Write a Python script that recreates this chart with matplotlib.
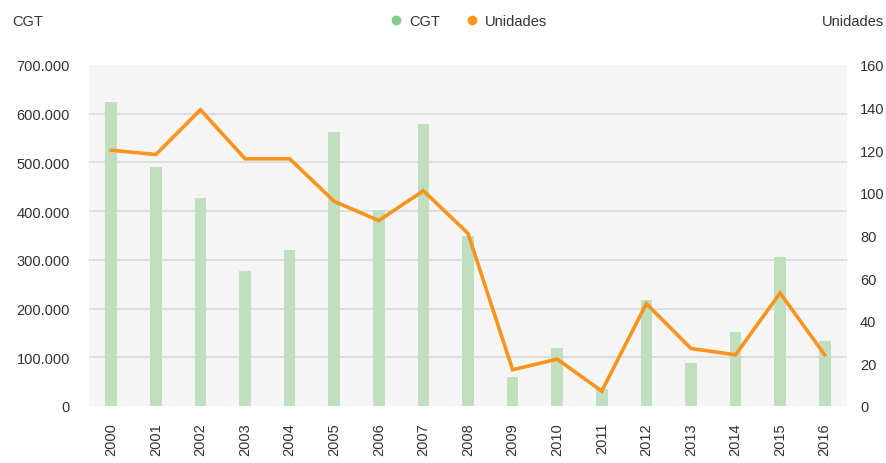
import matplotlib
matplotlib.use("Agg")
import matplotlib.pyplot as plt
from matplotlib.lines import Line2D
from matplotlib.ticker import FuncFormatter

years = ["2000", "2001", "2002", "2003", "2004", "2005", "2006", "2007", "2008",
         "2009", "2010", "2011", "2012", "2013", "2014", "2015", "2016"]
cgt = [625000, 490000, 428000, 278000, 321000, 563000, 403000, 578000, 348000,
       60000, 119000, 35000, 217000, 88000, 152000, 305000, 134000]
unidades = [120, 118, 139, 116, 116, 96, 87, 101, 81,
            17, 22, 7, 48, 27, 24, 53, 24]

bar_color = "#bfdfbf"
legend_green = "#7fcb8a"
line_color = "#f7941d"
text_color = "#333333"

plt.rcParams["font.family"] = ["Liberation Sans", "DejaVu Sans"]
fs = 10.5
fig = plt.figure(figsize=(8.87, 4.64), dpi=100)
ax = fig.add_axes([89 / 887, 1 - 407 / 464, (847 - 89) / 887, (407 - 66) / 464])
ax.set_facecolor("#f5f5f5")
x = list(range(len(years)))
ax.bar(x, cgt, width=0.26, color=bar_color, zorder=2)
ax.set_xlim(-0.5, len(years) - 0.5)
ax.set_ylim(0, 700000)
ax.set_yticks(range(0, 700001, 100000))
ax.yaxis.set_major_formatter(FuncFormatter(lambda v, p: "0" if v == 0 else f"{int(v):,}".replace(",", ".")))
for v in range(100000, 700000, 100000):
    ax.axhline(v, color="#d9d9d9", linewidth=1.2, zorder=1)
for s in ax.spines.values():
    s.set_visible(False)
ax.set_xticks(x)
ax.set_xticklabels(years, rotation=90, fontsize=fs, color=text_color)
ax.tick_params(axis="x", length=0, pad=11.5)
ax.tick_params(axis="y", length=0, pad=13.7, labelsize=fs, labelcolor=text_color)

ax2 = ax.twinx()
ax2.plot(x, unidades, color=line_color, linewidth=2.6, zorder=3, solid_joinstyle="miter")
ax2.set_ylim(0, 160)
ax2.set_yticks(range(0, 161, 20))
for s in ax2.spines.values():
    s.set_visible(False)
ax2.tick_params(axis="y", length=0, pad=9.4, labelsize=fs, labelcolor=text_color)

fig.text(12 / 887, 1 - 22 / 464, "CGT", fontsize=fs, color=text_color, va="center", ha="left")
fig.text(884 / 887, 1 - 22 / 464, "Unidades", fontsize=fs, color=text_color, va="center", ha="right")

handles = [Line2D([], [], marker="o", linestyle="", color=legend_green, markersize=6, label="CGT"),
           Line2D([], [], marker="o", linestyle="", color=line_color, markersize=6, label="Unidades")]
fig.legend(handles=handles, loc="center", bbox_to_anchor=(468 / 887, 1 - 22 / 464), ncol=2,
           frameon=False, fontsize=fs, handletextpad=0.4, columnspacing=1.7, handlelength=1.0,
           labelcolor=text_color)

fig.savefig("out.png", dpi=100)
